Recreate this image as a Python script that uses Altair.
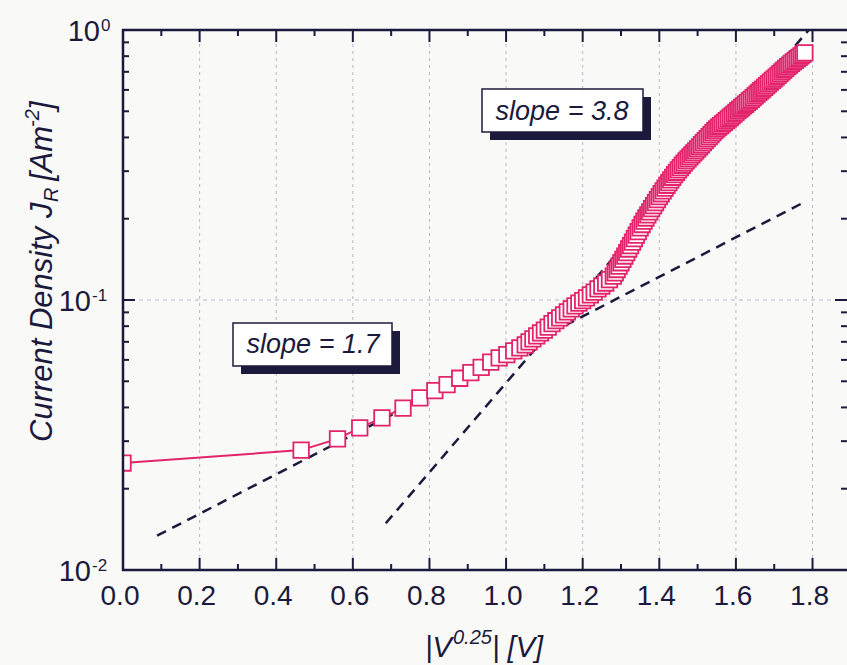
import altair as alt
import pandas as pd

# ---------------- data ----------------
x_vals = [0.000, 0.465, 0.560, 0.618, 0.676, 0.731, 0.775, 0.814, 0.846, 0.879,
          0.908, 0.935, 0.960, 0.982, 1.002, 1.020, 1.036,
          1.050, 1.060, 1.070, 1.080, 1.090, 1.100, 1.110, 1.120, 1.130, 1.140,
          1.150, 1.160, 1.170, 1.180, 1.190, 1.200, 1.210, 1.220, 1.230, 1.240,
          1.250, 1.260, 1.270, 1.280, 1.285, 1.290, 1.295,
          1.300, 1.305, 1.310, 1.315, 1.320, 1.325, 1.330, 1.335, 1.340, 1.345,
          1.350, 1.355, 1.360, 1.365, 1.370, 1.375, 1.380, 1.385, 1.390, 1.395,
          1.400, 1.405, 1.410, 1.415, 1.420, 1.425, 1.430, 1.435, 1.440, 1.445,
          1.450, 1.455, 1.460, 1.465, 1.470, 1.475, 1.480, 1.485, 1.490, 1.495,
          1.500, 1.505, 1.510, 1.515, 1.520, 1.525, 1.530, 1.535, 1.540, 1.545,
          1.550, 1.555, 1.560, 1.565, 1.570, 1.575, 1.580, 1.585, 1.590, 1.595,
          1.600, 1.605, 1.610, 1.615, 1.620, 1.625, 1.630, 1.635, 1.640, 1.645,
          1.650, 1.655, 1.660, 1.665, 1.670, 1.675, 1.680, 1.685, 1.690, 1.695,
          1.700, 1.705, 1.710, 1.715, 1.720, 1.725, 1.730, 1.735, 1.740, 1.745,
          1.750, 1.755, 1.760, 1.765, 1.770, 1.775, 1.780]
j_vals = [0.0249, 0.0278, 0.0306, 0.0336, 0.0366, 0.0398, 0.0434, 0.0462, 0.0486, 0.0513,
          0.0538, 0.0563, 0.0589, 0.0610, 0.0628, 0.0648, 0.0665,
          0.0682, 0.0700, 0.0718, 0.0736, 0.0755, 0.0774, 0.0794, 0.0817, 0.0838, 0.0859,
          0.0881, 0.0904, 0.0927, 0.0951, 0.0973, 0.0995, 0.1019, 0.1045, 0.1069, 0.1099,
          0.1127, 0.1156, 0.1189, 0.1225, 0.1260, 0.1297, 0.1335,
          0.1374, 0.1414, 0.1455, 0.1499, 0.1545, 0.1590, 0.1637, 0.1687, 0.1738, 0.1793,
          0.1849, 0.1904, 0.1959, 0.2012, 0.2065, 0.2121, 0.2178, 0.2237, 0.2296, 0.2355,
          0.2415, 0.2475, 0.2535, 0.2598, 0.2661, 0.2723, 0.2786, 0.2848, 0.2911, 0.2972,
          0.3034, 0.3094, 0.3155, 0.3214, 0.3273, 0.3330, 0.3388, 0.3447, 0.3508, 0.3569,
          0.3631, 0.3694, 0.3758, 0.3824, 0.3890, 0.3958, 0.4027, 0.4097, 0.4169, 0.4237,
          0.4305, 0.4365, 0.4426, 0.4488, 0.4550, 0.4613, 0.4677, 0.4742, 0.4808, 0.4881,
          0.4955, 0.5024, 0.5093, 0.5164, 0.5236, 0.5309, 0.5383, 0.5458, 0.5534, 0.5618,
          0.5702, 0.5788, 0.5875, 0.5957, 0.6039, 0.6131, 0.6223, 0.6317, 0.6412, 0.6502,
          0.6592, 0.6692, 0.6792, 0.6895, 0.6998, 0.7104, 0.7211, 0.7312, 0.7413, 0.7517,
          0.7621, 0.7718, 0.7816, 0.7916, 0.8017, 0.8119, 0.8222]

fit_names = ["slope = 1.7", "slope = 1.7", "slope = 3.8", "slope = 3.8"]
fit_x = [0.089, 1.78, 0.686, 1.79]
fit_y = [0.0134, 0.231, 0.0149, 1.0]

x_major = [0.0, 0.2, 0.4, 0.6, 0.8, 1.0, 1.2, 1.4, 1.6, 1.8]
x_minor = [0.1, 0.3, 0.5, 0.7, 0.9, 1.1, 1.3, 1.5, 1.7]
y_major = [0.01, 0.1, 1.0]
y_minor = [0.02, 0.03, 0.04, 0.05, 0.06, 0.07, 0.08, 0.09,
           0.2, 0.3, 0.4, 0.5, 0.6, 0.7, 0.8, 0.9]
y_label_exp = ["-2", "-1", "0"]
x_grid = [0.2, 0.4, 0.6, 0.8, 1.0, 1.2, 1.4, 1.6, 1.8]
y_grid = [0.1]

slope_labels = ["slope = 1.7", "slope = 3.8"]

x_title_parts = ["|V", "0.25", "| [V]"]
y_title_parts = ["Current Density J", "R", "[Am", "-2", "]"]

# ---------------- styling ----------------
W, H = 724, 540
NAVY = "#1c1a3c"
PINK = "#e3236b"
GRID = "#bdb3c9"
FONT = "Liberation Sans"

xs = alt.Scale(domain=[0, 1.89], nice=False, zero=False)
ys = alt.Scale(type="log", domain=[0.01, 1], nice=False)

df = pd.DataFrame({"x": x_vals, "j": j_vals})
fit_df = pd.DataFrame({"name": fit_names, "x": fit_x, "j": fit_y})
one = pd.DataFrame({"k": [0]})

# grid
vgrid = alt.Chart(pd.DataFrame({"v": x_grid})).mark_rule(
    color=GRID, strokeWidth=1, strokeDash=[3, 4]
).encode(x=alt.X("v:Q", scale=xs, axis=None), y=alt.value(0), y2=alt.value(H))
hgrid = alt.Chart(pd.DataFrame({"v": y_grid})).mark_rule(
    color=GRID, strokeWidth=1, strokeDash=[4, 4]
).encode(y=alt.Y("v:Q", scale=ys, axis=None), x=alt.value(0), x2=alt.value(W))

# x tick labels
xlabels = alt.Chart(pd.DataFrame({"v": x_major})).mark_text(
    font=FONT, fontSize=28, color=NAVY, align="center", baseline="alphabetic", dx=-3
).encode(
    x=alt.X("v:Q", scale=xs, axis=None),
    y=alt.value(575),
    text=alt.Text("v:Q", format=".1f"),
)

# fit lines
fits = alt.Chart(fit_df).mark_line(
    color=NAVY, strokeWidth=2.5, strokeDash=[10, 7]
).encode(
    x=alt.X("x:Q", scale=xs, axis=None),
    y=alt.Y("j:Q", scale=ys, axis=None),
    detail="name:N",
)

# data
series_line = alt.Chart(df).mark_line(color=PINK, strokeWidth=2, clip=True).encode(
    x=alt.X("x:Q", scale=xs, axis=None),
    y=alt.Y("j:Q", scale=ys, axis=None),
)
series_pts = alt.Chart(df).mark_point(
    shape="square", filled=True, fill="white", stroke=PINK, strokeWidth=1.8,
    size=240, opacity=1, clip=True
).encode(
    x=alt.X("x:Q", scale=xs, axis=None),
    y=alt.Y("j:Q", scale=ys, axis=None),
)

# frame
frame = [
    alt.Chart(one).mark_rule(color=NAVY, strokeWidth=2.5).encode(
        x=alt.value(0), x2=alt.value(0), y=alt.value(-1), y2=alt.value(H + 1)),
    alt.Chart(one).mark_rule(color=NAVY, strokeWidth=2.5).encode(
        x=alt.value(-1), x2=alt.value(W), y=alt.value(H), y2=alt.value(H)),
    alt.Chart(one).mark_rule(color=NAVY, strokeWidth=2.5).encode(
        x=alt.value(-1), x2=alt.value(W), y=alt.value(0), y2=alt.value(0)),
]

# inward ticks
def xticks(vals, length):
    d = pd.DataFrame({"v": vals})
    b = alt.Chart(d).mark_rule(color=NAVY, strokeWidth=2).encode(
        x=alt.X("v:Q", scale=xs, axis=None), y=alt.value(H), y2=alt.value(H - length))
    t = alt.Chart(d).mark_rule(color=NAVY, strokeWidth=2).encode(
        x=alt.X("v:Q", scale=xs, axis=None), y=alt.value(0), y2=alt.value(length))
    return [b, t]

def yticks(vals, length):
    d = pd.DataFrame({"v": vals})
    l = alt.Chart(d).mark_rule(color=NAVY, strokeWidth=2).encode(
        y=alt.Y("v:Q", scale=ys, axis=None), x=alt.value(0), x2=alt.value(length))
    r = alt.Chart(d).mark_rule(color=NAVY, strokeWidth=2).encode(
        y=alt.Y("v:Q", scale=ys, axis=None), x=alt.value(W), x2=alt.value(W - length))
    return [l, r]

ticks = xticks(x_major, 12) + xticks(x_minor, 6) + yticks(y_major, 12) + yticks(y_minor, 6)

# y tick labels 10^n
ylab_df = pd.DataFrame({"v": y_major, "e": y_label_exp})
ylab_layers = []
for cond, xr in [("datum.v == 1", -23), ("datum.v < 1", -32)]:
    base = alt.Chart(ylab_df).transform_filter(cond)
    ylab_layers.append(base.mark_text(
        text="10", font=FONT, fontSize=29, color=NAVY, align="right",
        baseline="alphabetic", dy=11
    ).encode(y=alt.Y("v:Q", scale=ys, axis=None), x=alt.value(xr)))
    ylab_layers.append(base.mark_text(
        font=FONT, fontSize=17, color=NAVY, align="left",
        baseline="alphabetic", dy=1
    ).encode(y=alt.Y("v:Q", scale=ys, axis=None), x=alt.value(xr + 1), text="e:N"))

# annotation boxes
def box(label, x1, x2, y1, y2, tx, ty):
    shadow = alt.Chart(one).mark_rect(color=NAVY).encode(
        x=alt.value(x1 + 8), x2=alt.value(x2 + 8), y=alt.value(y1 + 8), y2=alt.value(y2 + 8))
    rect = alt.Chart(one).mark_rect(fill="white", stroke=NAVY, strokeWidth=1.5).encode(
        x=alt.value(x1), x2=alt.value(x2), y=alt.value(y1), y2=alt.value(y2))
    txt = alt.Chart(one).mark_text(
        text=label, font=FONT, fontSize=27, fontStyle="italic", color=NAVY,
        align="center", baseline="alphabetic"
    ).encode(x=alt.value(tx), y=alt.value(ty))
    return [shadow, rect, txt]

boxes = box(slope_labels[0], 110, 269, 293, 336, 190, 323) + \
        box(slope_labels[1], 359, 520, 59, 102, 439, 90)

# titles built from pieces
def piece(text, x, y, size, angle=0):
    kw = dict(text=text, font=FONT, fontSize=size, fontStyle="italic", color=NAVY,
              align="left", baseline="alphabetic")
    if angle:
        kw["angle"] = angle
    return alt.Chart(one).mark_text(**kw).encode(x=alt.value(x), y=alt.value(y))

xtitle = [
    piece(x_title_parts[0], 302, 627, 29),
    piece(x_title_parts[1], 330, 614, 20),
    piece(x_title_parts[2], 369, 627, 29),
]
ytitle = [
    piece(y_title_parts[0], -71, 412, 31, 270),
    piece(y_title_parts[1], -65, 172, 20, 270),
    piece(y_title_parts[2], -71, 151, 31, 270),
    piece(y_title_parts[3], -84, 97, 20, 270),
    piece(y_title_parts[4], -71, 80, 31, 270),
]

chart = alt.layer(
    vgrid, hgrid, fits, series_line, series_pts,
    *boxes, *ticks, *frame, xlabels, *ylab_layers, *xtitle, *ytitle
).properties(
    width=W, height=H,
    autosize=alt.AutoSizeParams(type="none"),
    padding={"left": 123, "top": 30, "right": 0, "bottom": 95},
    background="#f9f9f7",
).configure_view(stroke=None)

chart.save("out.html", embed_options={"renderer": "svg", "actions": False})
